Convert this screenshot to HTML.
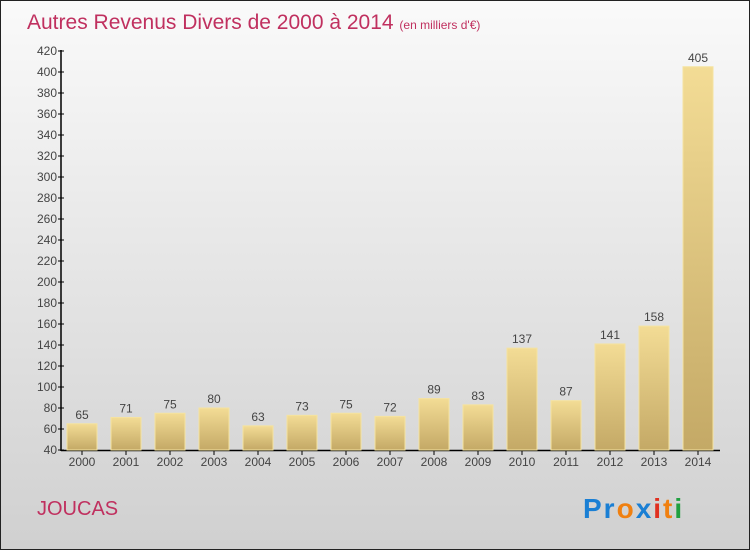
<!DOCTYPE html>
<html><head><meta charset="utf-8"><style>
body{margin:0}
svg{display:block;font-family:"Liberation Sans",sans-serif}
</style></head><body>
<svg width="750" height="550" xmlns="http://www.w3.org/2000/svg">
<defs>
<linearGradient id="bg" x1="0" y1="0" x2="0" y2="1"><stop offset="0" stop-color="#fafafa"/><stop offset="1" stop-color="#d0d0d0"/></linearGradient>
<linearGradient id="bar" x1="0" y1="0" x2="0" y2="1"><stop offset="0" stop-color="#f3dc95"/><stop offset="1" stop-color="#c4a966"/></linearGradient>
</defs>
<rect x="0.5" y="0.5" width="749" height="549" fill="url(#bg)" stroke="#222"/>
<text x="27" y="29" font-size="21" fill="#c0305f">Autres Revenus Divers de 2000 à 2014 <tspan font-size="12">(en milliers d'€)</tspan></text>
<text x="37" y="515" font-size="20" fill="#c0305f">JOUCAS</text>
<g font-size="28" font-weight="bold">
<text x="583" y="518" letter-spacing="2"><tspan fill="#1a7fd4">Pr</tspan><tspan fill="#f08010">o</tspan><tspan fill="#1a7fd4">x</tspan><tspan fill="#e03020">i</tspan><tspan fill="#f08010">t</tspan><tspan fill="#20a040">i</tspan></text>
</g>
<g id="axes"></g>
<g id="bars"></g>
</svg>
<script>
const years=["2000","2001","2002","2003","2004","2005","2006","2007","2008","2009","2010","2011","2012","2013","2014"];
const values=[65,71,75,80,63,73,75,72,89,83,137,87,141,158,405];
const ticks=[40,60,80,100,120,140,160,180,200,220,240,260,280,300,320,340,360,380,400,420];
const NS="http://www.w3.org/2000/svg";
const y=v=>450-(v-40)*(399/380);
const x=i=>82+44*i;
const ax=document.getElementById('axes'),bg=document.getElementById('bars');
function mk(t,a,p){const e=document.createElementNS(NS,t);for(const k in a)e.setAttribute(k,a[k]);p.appendChild(e);return e;}
let l=mk('line',{x1:61,y1:50,x2:61,y2:451,stroke:'#000','stroke-width':1.5},ax);


l=mk('line',{x1:61,y1:450.5,x2:720,y2:450.5,stroke:'#000','stroke-width':1.5},ax);


ticks.forEach(t=>{
 const tl=mk('line',{x1:58,x2:64,y1:y(t),y2:y(t),stroke:'#000'},ax);
 
 
 const tx=mk('text',{x:57,y:y(t)+4,'text-anchor':'end','font-size':12,fill:'#444'},ax);
 tx.textContent=t;
 
 
});
values.forEach((v,i)=>{
 const r=mk('rect',{x:x(i)-15,y:y(v),width:30,height:450-y(v),fill:'url(#bar)',stroke:'#f5e3a0','stroke-width':1},bg);
 
 
 const vt=mk('text',{x:x(i),y:y(v)-5,'text-anchor':'middle','font-size':12,fill:'#444'},bg);
 vt.textContent=v;
 
 
 const tk=mk('line',{x1:x(i),x2:x(i),y1:450,y2:455,stroke:'#000'},ax);
 
 
 const yt=mk('text',{x:x(i),y:466,'text-anchor':'middle','font-size':12,fill:'#444'},ax);
 yt.textContent=years[i];
 
 
});
</script>
</body></html>
